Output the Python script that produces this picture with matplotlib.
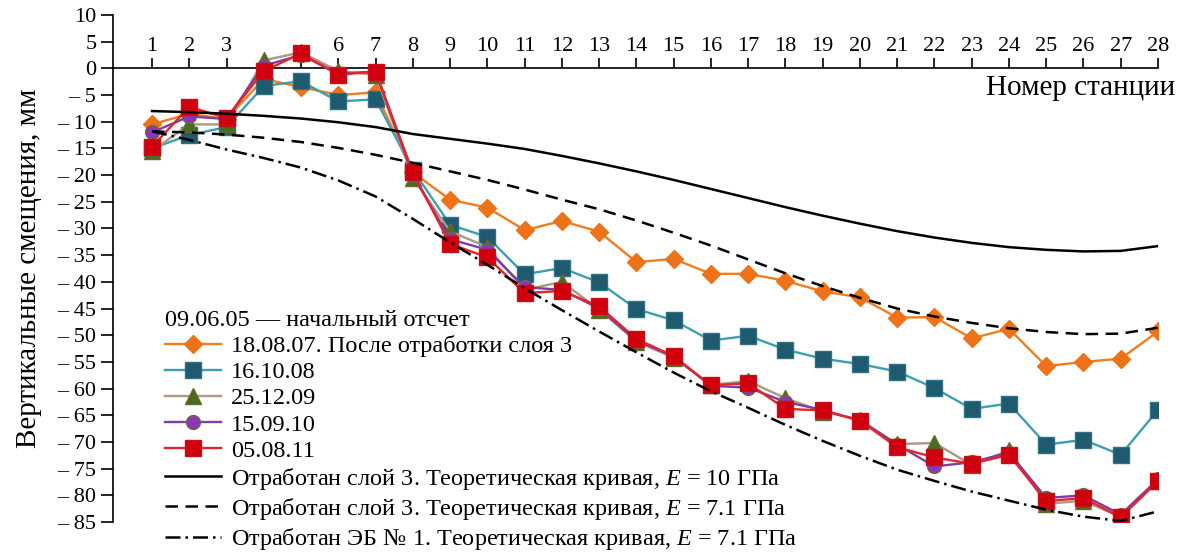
import numpy as np
import matplotlib
matplotlib.use("Agg")
import matplotlib.pyplot as plt

plt.rcParams['font.family'] = ['Liberation Serif', 'DejaVu Serif']
plt.rcParams['mathtext.fontset'] = 'custom'
plt.rcParams['mathtext.it'] = 'Liberation Serif:italic'
plt.rcParams['mathtext.rm'] = 'Liberation Serif'

# =========================
# Data
# =========================
stations = np.arange(1, 29)
tick_labels = [str(s) if s not in (4, 5) else "" for s in stations]

d_180807 = [-10.5, -8.5, -9.5, -2, -3.5, -5, -4.5, -19.5, -24.6, -26.1,
            -30.3, -28.6, -30.6, -36.3, -35.7, -38.5, -38.5, -39.8, -41.8, -42.9,
            -46.7, -46.6, -50.6, -48.8, -55.8, -55.0, -54.4, -49.3]
d_161008 = [-15, -12.5, -11, -3.3, -2.4, -6.2, -5.8, -19, -29.3, -31.6,
            -38.6, -37.4, -40.1, -45.1, -47.2, -51, -50.1, -52.7, -54.4, -55.4,
            -56.8, -59.9, -63.8, -62.8, -70.5, -69.6, -72.4, -64]
d_251209 = [-15.5, -10.5, -10.5, 1.5, 3, -0.5, -1.2, -20.5, -30.5, -33.5,
            -41.5, -40, -45.2, -51.2, -54.2, -59.3, -58.6, -61.8, -64.3, -65.8,
            -70.4, -70.2, -74.3, -71.6, -81.6, -81.0, -84.1, -77.4]
d_150910 = [-12, -9, -9.5, 0.5, 2.5, -1, -0.6, -20, -32, -34,
            -41, -41.5, -45, -51, -54, -59.5, -59.8, -62.5, -64, -66,
            -70.5, -74.6, -73.8, -72, -80.5, -80, -83.6, -77]
d_050811 = [-14.7, -7.2, -9.3, -0.5, 2.8, -1.2, -0.6, -19.5, -32.9, -35.4,
            -42.1, -41.7, -44.6, -50.7, -53.9, -59.4, -59, -63.8, -64.1, -66,
            -71, -72.9, -74.1, -72.4, -81.1, -80.5, -84.1, -77.3]

theory_e10 = [-8, -8.2, -8.5, -8.9, -9.4, -10.1, -11, -12.3, -13.2, -14.1,
              -15.1, -16.4, -17.8, -19.3, -20.9, -22.6, -24.3, -26, -27.6, -29.1,
              -30.5, -31.7, -32.7, -33.5, -34, -34.3, -34.2, -33.3]
theory_e71 = [-11.8, -12, -12.4, -13, -13.8, -14.9, -16.2, -17.7, -19.3, -20.9,
              -22.7, -24.6, -26.4, -28.5, -30.8, -33.2, -35.8, -38.4, -40.8, -43,
              -45, -46.5, -47.7, -48.7, -49.4, -49.8, -49.7, -48.6]
theory_eb1 = [-11.8, -13.4, -15.2, -16.8, -18.6, -21, -24, -28.2, -32.6, -36.8,
              -41.2, -45.3, -49.3, -53.2, -57, -60.5, -63.6, -66.8, -69.8, -72.6,
              -75.2, -77.3, -79.3, -81, -82.7, -84, -84.8, -83]

series = [
    ("18.08.07. После отработки слоя 3", d_180807, 'D', '#F07D1E', '#EE7218', '#EE7218', 9),
    ("16.10.08", d_161008, 's', '#3E9FAE', '#1F5A6E', '#2C7388', 11),
    ("25.12.09", d_251209, '^', '#AA9A82', '#4A6B20', '#5E6E2A', 11),
    ("15.09.10", d_150910, 'o', '#7A3FA6', '#8B36B8', '#6B6B3A', 10),
    ("05.08.11", d_050811, 's', '#E8242B', '#D0000F', '#C4101A', 11),
]

# =========================
# Plot
# =========================
fig = plt.figure(figsize=(11.82, 5.58), dpi=100)
ax = fig.add_axes([113 / 1182, 1 - 522 / 558, (1158 - 113) / 1182, (522 - 15) / 558])

handles = []
for label, vals, mk, lc, fc, ec, ms in series:
    h, = ax.plot(stations, vals, color=lc, lw=1.7, marker=mk, markersize=ms,
                 markerfacecolor=fc, markeredgecolor=ec, markeredgewidth=1.0,
                 label=label, zorder=3)
    handles.append(h)

t1, = ax.plot(stations, theory_e10, color='black', lw=1.8, ls='-', zorder=4,
              label="Отработан слой 3. Теоретическая кривая, $\\it{E}$ = 10 ГПа")
t2, = ax.plot(stations, theory_e71, color='black', lw=1.8, ls=(0, (5, 3)), zorder=4,
              label="Отработан слой 3. Теоретическая кривая, $\\it{E}$ = 7.1 ГПа")
t3, = ax.plot(stations, theory_eb1, color='black', lw=1.8, ls=(0, (6, 2, 1, 2)), zorder=4,
              clip_on=False,
              label="Отработан ЭБ № 1. Теоретическая кривая, $\\it{E}$ = 7.1 ГПа")
handles += [t1, t2, t3]

# axes styling: x axis drawn along y = 0
ax.set_xlim(1 - 39 / 37.26, 28)
ax.set_ylim(-85, 10)
ax.spines['right'].set_visible(False)
ax.spines['bottom'].set_visible(False)
ax.spines['top'].set_position(('data', 0))
ax.spines['top'].set_linewidth(1.2)
ax.spines['left'].set_linewidth(1.2)
ax.xaxis.tick_top()
ax.set_xticks(stations)
ax.set_xticklabels(tick_labels)
ax.tick_params(axis='x', direction='out', length=7, width=1.2, pad=2, labelsize=16)

yticks = np.arange(-85, 11, 5)
ax.set_yticks(yticks)
ax.set_yticklabels([str(v) if v >= 0 else "\u2013 " + str(-v) for v in yticks])
ax.tick_params(axis='y', direction='out', length=9, width=1.2, pad=3, labelsize=16)
ax.set_ylabel("Вертикальные смещения, мм", fontsize=21)
ax.yaxis.set_label_coords(-0.068, 0.5)

fig.text(1175 / 1182, 1 - 88 / 558, "Номер станции", ha='right', va='center', fontsize=21)

leg = fig.legend(handles=handles, loc='upper left',
                 bbox_to_anchor=(165 / 1182, 1 - 310 / 558),
                 frameon=False, fontsize=17.5, title="09.06.05 — начальный отсчет",
                 title_fontsize=17.5, alignment='left', handlelength=2.3,
                 handletextpad=0.4, labelspacing=0.17, borderpad=0, borderaxespad=0)

fig.savefig("out.png", dpi=100)
